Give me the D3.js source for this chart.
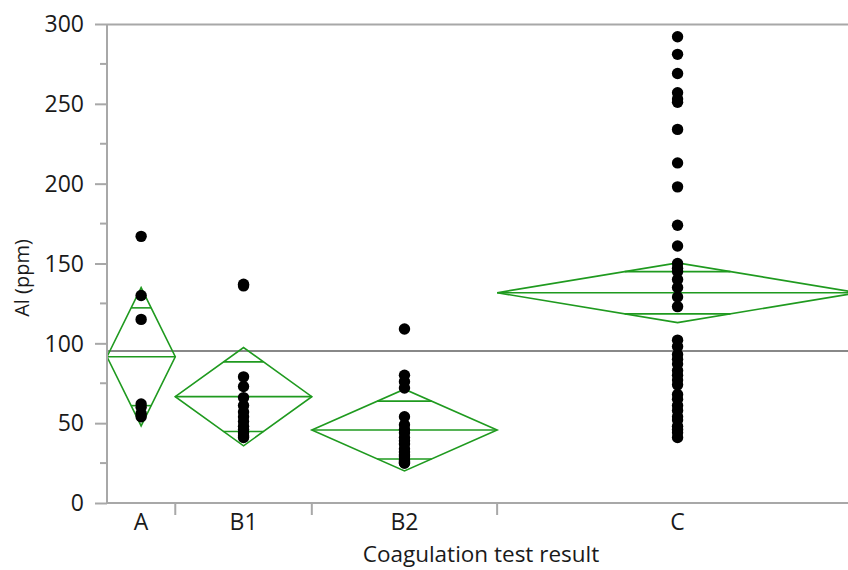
<!DOCTYPE html>
<html>
<head>
<meta charset="utf-8">
<script src="https://cdn.jsdelivr.net/npm/d3@7"></script>
<style>
  html, body { margin: 0; padding: 0; background: #fff; }
  svg { display: block; font-family: "Open Sans", "Noto Sans", sans-serif; }
</style>
</head>
<body>
<svg id="chart" width="848" height="570"></svg>
<script>
// Al (ppm) by coagulation test result, with means diamonds
const groups = ["A", "B1", "B2", "C"];

const valuesA  = [167, 130, 115, 62, 60, 56, 54];
const valuesB1 = [137, 136, 79, 73, 66, 61, 57, 54, 51, 48, 46, 44, 42, 41];
const valuesB2 = [109, 80, 76, 72, 54, 49, 46, 44, 41, 39, 37, 34, 32, 30, 29, 27, 26, 25, 25];
const valuesC  = [292, 281, 269, 257, 253, 251, 234, 213, 198, 174, 161,
                  150, 147, 145, 140, 135, 129, 123,
                  102, 98, 93, 90, 87, 83, 80, 77, 74,
                  68, 65, 61, 58, 54, 52, 48, 46, 44, 41];

// group means and 95% confidence half-widths (pooled)
const groupMeans = [91.6, 66.6, 45.7, 131.7];
const groupCI    = [43.3, 30.8, 25.6, 18.7];

const yTicks = [0, 50, 100, 150, 200, 250, 300];
const yMinorTicks = [25, 75, 125, 175, 225, 275];

const series = [valuesA, valuesB1, valuesB2, valuesC];

const svg = d3.select("#chart");
const plot = { left: 107, right: 858, top: 24, bottom: 503 };
const axisColor = "#a8a8a8";
const green = "#1f9a1f";
const textColor = "#1a1a1a";

const y = d3.scaleLinear().domain([0, 300]).range([plot.bottom, plot.top]);

// group widths proportional to sample size
const counts = series.map(s => s.length);
const total = d3.sum(counts);
const xs = d3.scaleLinear().domain([0, total]).range([plot.left, plot.right]);
const cum = [0];
counts.forEach((c, i) => cum.push(cum[i] + c));
const bands = groups.map((g, i) => ({
  name: g, x0: xs(cum[i]), x1: xs(cum[i + 1]), cx: (xs(cum[i]) + xs(cum[i + 1])) / 2
}));

// frame top line
svg.append("line")
  .attr("x1", plot.left).attr("x2", plot.right)
  .attr("y1", plot.top + 0.5).attr("y2", plot.top + 0.5)
  .attr("stroke", axisColor).attr("stroke-width", 2);

// grand mean line
const grand = d3.mean(series.flat());
svg.append("line")
  .attr("x1", plot.left).attr("x2", plot.right)
  .attr("y1", y(grand)).attr("y2", y(grand))
  .attr("stroke", "#888").attr("stroke-width", 2);

// means diamonds
const dg = svg.append("g").attr("fill", "none").attr("stroke", green).attr("stroke-width", 1.6);
bands.forEach((b, i) => {
  const m = groupMeans[i], h = groupCI[i];
  const pts = [[b.x0, y(m)], [b.cx, y(m + h)], [b.x1, y(m)], [b.cx, y(m - h)]];
  dg.append("path").attr("d", d3.line()(pts) + "Z").attr("stroke-linejoin", "miter");
  dg.append("line").attr("x1", b.x0).attr("x2", b.x1).attr("y1", y(m)).attr("y2", y(m));
  const hw = (b.x1 - b.x0) / 2 * (1 - Math.SQRT1_2);
  [m + h * Math.SQRT1_2, m - h * Math.SQRT1_2].forEach(v => {
    dg.append("line").attr("x1", b.cx - hw).attr("x2", b.cx + hw)
      .attr("y1", y(v)).attr("y2", y(v));
  });
});

// data points
const pg = svg.append("g").attr("fill", "#000");
bands.forEach((b, i) => {
  pg.selectAll(null).data(series[i]).enter().append("circle")
    .attr("cx", b.cx).attr("cy", d => y(d)).attr("r", 5.7);
});

// y axis
const yAxis = svg.append("g").attr("transform", `translate(${plot.left},0)`);
yAxis.call(d3.axisLeft(y).tickValues(yTicks).tickSize(12).tickPadding(11).tickFormat(d3.format("d")));
yAxis.append("g").selectAll("line").data(yMinorTicks).enter().append("line")
  .attr("x1", -7).attr("x2", 0).attr("y1", d => y(d)).attr("y2", d => y(d));
yAxis.selectAll("line, path").attr("stroke", axisColor).attr("stroke-width", 2);
yAxis.select(".domain").attr("d", `M0,${plot.top}V${plot.bottom}`);
yAxis.attr("font-size", null).attr("font-family", null);
yAxis.selectAll("text").attr("fill", textColor).attr("dy", "0.34em").style("font-size", "23px");

// x axis
const xAxis = svg.append("g");
xAxis.append("line").attr("x1", plot.left).attr("x2", plot.right)
  .attr("y1", plot.bottom).attr("y2", plot.bottom)
  .attr("stroke", axisColor).attr("stroke-width", 2);
bands.slice(1).forEach(b => {
  xAxis.append("line").attr("x1", b.x0).attr("x2", b.x0)
    .attr("y1", plot.bottom).attr("y2", plot.bottom + 12)
    .attr("stroke", axisColor).attr("stroke-width", 2);
});
xAxis.selectAll("text.cat").data(bands).enter().append("text")
  .attr("class", "cat")
  .attr("x", d => d.cx).attr("y", 530)
  .attr("text-anchor", "middle").attr("fill", textColor).style("font-size", "23px")
  .text(d => d.name);

// axis titles
svg.append("text").attr("x", 481).attr("y", 562)
  .attr("text-anchor", "middle").attr("fill", textColor).style("font-size", "22.5px")
  .text("Coagulation test result");
svg.append("text").attr("transform", "translate(29,278) rotate(-90)")
  .attr("text-anchor", "middle").attr("fill", textColor).style("font-size", "20px")
  .text("Al (ppm)");
</script>
</body>
</html>
